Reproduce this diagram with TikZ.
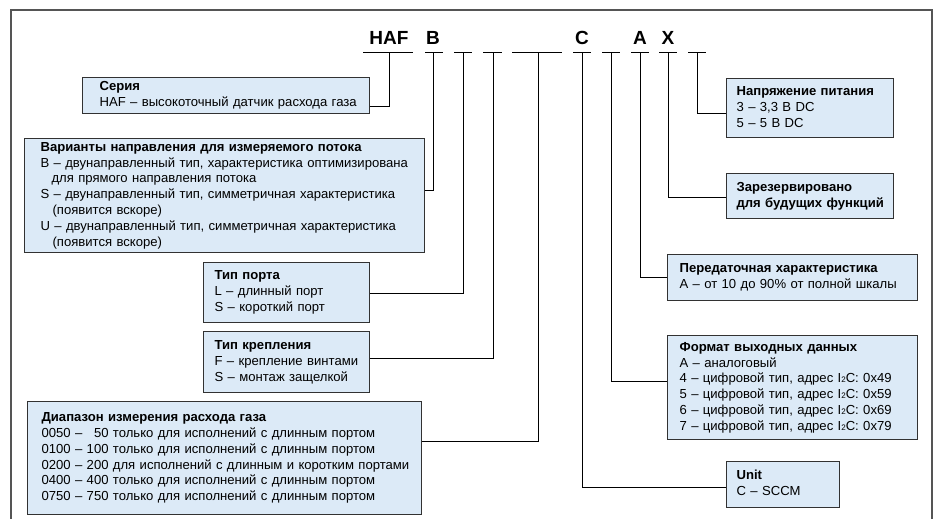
\documentclass[tikz,border=0pt]{standalone}
\usepackage{fontspec}
\setmainfont{Liberation Sans}
\definecolor{boxblue}{RGB}{220,234,247}
\definecolor{framegray}{RGB}{85,85,85}
\definecolor{boxline}{RGB}{50,50,50}
\newcommand{\boxlines}[1]{\begin{tabular}{@{}l@{}}#1\end{tabular}}
\newcommand{\itwoc}{I{\fontsize{8}{8}\selectfont 2}C}
\begin{document}
\begin{tikzpicture}[x=1pt,y=-1pt,
  txt/.style={font=\fontsize{13.1}{15.8}\selectfont},
  infobox/.style={txt, draw=boxline, line width=1.2pt, fill=boxblue, anchor=north west, align=left, inner ysep=0pt},
  codeletter/.style={font=\fontsize{19}{19}\selectfont\bfseries, anchor=base, inner sep=0pt},
  tickline/.style={line width=1pt, black},
  conn/.style={line width=1pt, black},
  frame/.style={line width=1.6pt, framegray}]
\useasboundingbox (0,0) rectangle (943,519);
\draw[frame] (11,519) -- (11,10) -- (932,10) -- (932,519);

% code letters
\node[codeletter] (lHAF) at (389,45) {HAF};
\node[codeletter] (lB) at (433,45) {B};
\node[codeletter] (lC) at (582,45) {C};
\node[codeletter] (lA) at (640,45) {A};
\node[codeletter] (lX) at (668,45) {X};

% tick tops
\coordinate (t1) at (389,53);
\coordinate (t2) at (433,53);
\coordinate (t3) at (463,53);
\coordinate (t4) at (493,53);
\coordinate (t5) at (538,53);
\coordinate (t6) at (582,53);
\coordinate (t7) at (611,53);
\coordinate (t8) at (640,53);
\coordinate (t9) at (668,53);
\coordinate (t10) at (697,53);
\draw[tickline] (363,53) -- (413,53);
\draw[tickline] (425,53) -- (443,53);
\draw[tickline] (454,53) -- (472,53);
\draw[tickline] (483,53) -- (502,53);
\draw[tickline] (512,53) -- (562,53);
\draw[tickline] (573,53) -- (591,53);
\draw[tickline] (602,53) -- (620,53);
\draw[tickline] (631,53) -- (649,53);
\draw[tickline] (659,53) -- (677,53);
\draw[tickline] (688,53) -- (706,53);

% boxes
\node[infobox, minimum height=36pt, text width=253pt, inner xsep=17pt] (b1) at (82,77)
 {\boxlines{\textbf{Серия}\\HAF – высокоточный датчик расхода газа}};
\node[infobox, minimum height=114pt, text width=368pt, inner xsep=16pt] (b2) at (24,138)
 {\boxlines{\textbf{Варианты направления для измеряемого потока}\\
  B – двунаправленный тип, характеристика оптимизирована\\
  \hspace*{11pt}для прямого направления потока\\
  S – двунаправленный тип, симметричная характеристика\\
  \hspace*{12pt}(появится вскоре)\\
  U – двунаправленный тип, симметричная характеристика\\
  \hspace*{12pt}(появится вскоре)}};
\node[infobox, minimum height=60pt, text width=144pt, inner xsep=11pt] (b3) at (203,262)
 {\boxlines{\textbf{Тип порта}\\L – длинный порт\\S – короткий порт}};
\node[infobox, minimum height=61pt, text width=144pt, inner xsep=11pt] (b4) at (203,331)
 {\boxlines{\textbf{Тип крепления}\\F – крепление винтами\\S – монтаж защелкой}};
\node[infobox, minimum height=113pt, text width=366pt, inner xsep=14pt] (b5) at (27,401)
 {\boxlines{\textbf{Диапазон измерения расхода газа}\\
  0050 – \phantom{1}50 только для исполнений с длинным портом\\
  0100 – 100 только для исполнений с длинным портом\\
  0200 – 200 для исполнений с длинным и коротким портами\\
  0400 – 400 только для исполнений с длинным портом\\
  0750 – 750 только для исполнений с длинным портом}};
\node[infobox, minimum height=59pt, text width=147pt, inner xsep=10pt] (b6) at (726,78)
 {\boxlines{\textbf{Напряжение питания}\\3 – 3,3 В DC\\5 – 5 В DC}};
\node[infobox, minimum height=45pt, text width=147pt, inner xsep=10pt] (b7) at (726,173)
 {\boxlines{\textbf{Зарезервировано}\\\textbf{для будущих функций}}};
\node[infobox, minimum height=46pt, text width=226pt, inner xsep=12pt] (b8) at (667,254)
 {\boxlines{\textbf{Передаточная характеристика}\\A – от 10 до 90\% от полной шкалы}};
\node[infobox, minimum height=104pt, text width=226pt, inner xsep=12pt] (b9) at (667,335)
 {\boxlines{\textbf{Формат выходных данных}\\
  A – аналоговый\\
  4 – цифровой тип, адрес \itwoc: 0x49\\
  5 – цифровой тип, адрес \itwoc: 0x59\\
  6 – цифровой тип, адрес \itwoc: 0x69\\
  7 – цифровой тип, адрес \itwoc: 0x79}};
\node[infobox, minimum height=46pt, text width=93pt, inner xsep=10pt] (b10) at (726,461)
 {\boxlines{\textbf{Unit}\\C – SCCM}};

% connectors
\draw[conn] (b1.east |- 0,106) -| (t1);
\draw[conn] (b2.east |- 0,190) -| (t2);
\draw[conn] (b3.east |- 0,293) -| (t3);
\draw[conn] (b4.east |- 0,358) -| (t4);
\draw[conn] (b5.east |- 0,441) -| (t5);
\draw[conn] (b10.west |- 0,487) -| (t6);
\draw[conn] (b9.west |- 0,381) -| (t7);
\draw[conn] (b8.west |- 0,277) -| (t8);
\draw[conn] (b7.west |- 0,197) -| (t9);
\draw[conn] (b6.west |- 0,113) -| (t10);
\end{tikzpicture}
\end{document}
